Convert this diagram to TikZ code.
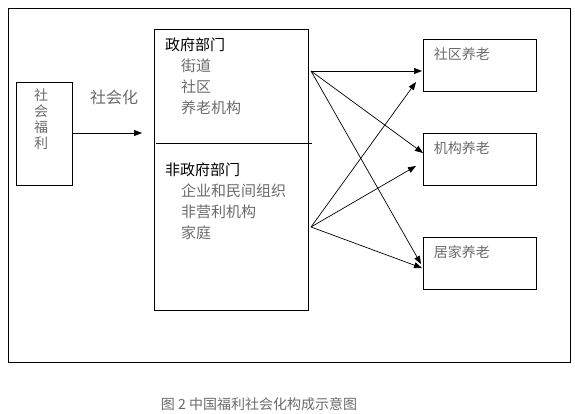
\documentclass[tikz,border=0pt]{standalone}
\usepackage{fontspec}
\setmainfont{Noto Sans CJK SC}
\usetikzlibrary{arrows.meta, positioning, calc}
\definecolor{tgray}{gray}{0.42}

\begin{document}
\begin{tikzpicture}[
    x=1pt, y=-1pt,
    every node/.style={font=\fontsize{15}{21}\selectfont},
    box/.style={draw, line width=0.8pt, inner sep=0pt},
    head/.style={anchor=west, inner sep=0pt},
    item/.style={anchor=west, inner sep=0pt, text=tgray, align=left},
    link/.style={-{Triangle[length=8pt, width=6pt]}, line width=0.7pt}
]
\useasboundingbox (0,0) rectangle (575,413);

%% Frame
\node[box, anchor=north west, minimum width=562pt, minimum height=354pt] (frame) at (8,8) {};

%% Social welfare
\node[box, minimum width=56pt, minimum height=103pt] (welfare) at (44,133.5) {};
\node[item, anchor=center, align=center, font=\fontsize{14}{16}\selectfont] (welfaretxt) at (41,119) {社\\会\\福\\利};

%% Socialisation arrow
\coordinate (sectorin) at (142,133);
\draw[link] (welfare.east |- sectorin) -- (sectorin);
\node[text=tgray, font=\fontsize{16}{18}\selectfont] (social) at (114,97) {社会化};

%% Sectors
\node[box, anchor=north west, minimum width=154pt, minimum height=281pt] (sector) at (154,29) {};
\coordinate (divl) at (156,143);
\coordinate (divr) at (312,143);
\draw[line width=0.8pt] (divl) -- (divr);

\node[head] (gov) at (165,45) {政府部门};
\node[item] (govitems) at (181,86.5) {街道\\社区\\养老机构};
\node[head] (ngo) at (165,170) {非政府部门};
\node[item] (ngoitems) at (181,211.5) {企业和民间组织\\非营利机构\\家庭};

%% Care types
\node[box, minimum width=113pt, minimum height=52pt] (care1) at (479.5,65) {};
\node[box, minimum width=113pt, minimum height=52pt] (care2) at (479.5,159) {};
\node[box, minimum width=113pt, minimum height=52pt] (care3) at (479.5,263) {};
\node[item, font=\fontsize{14}{16}\selectfont] (care1txt) at ([xshift=11pt, yshift=-16pt]care1.north west) {社区养老};
\node[item, font=\fontsize{14}{16}\selectfont] (care2txt) at ([xshift=11pt, yshift=-16pt]care2.north west) {机构养老};
\node[item, font=\fontsize{14}{16}\selectfont] (care3txt) at ([xshift=11pt, yshift=-16pt]care3.north west) {居家养老};

%% Arrows
\coordinate (govout) at (311,71);
\coordinate (ngoout) at (311,227);
\coordinate (g1) at (422,71);
\coordinate (g2) at (423,153);
\coordinate (g3) at (421,264);
\coordinate (n1) at (416,82);
\coordinate (n2) at (416,166);
\coordinate (n3) at (422,268);
\draw[link] (govout) -- (g1);
\draw[link] (govout) -- (g2);
\draw[link] (govout) -- (g3);
\draw[link] (ngoout) -- (n1);
\draw[link] (ngoout) -- (n2);
\draw[link] (ngoout) -- (n3);

%% Caption
\node[text=tgray, font=\fontsize{14}{16}\selectfont] (caption) at (259,404) {图 2 中国福利社会化构成示意图};
\end{tikzpicture}
\end{document}
